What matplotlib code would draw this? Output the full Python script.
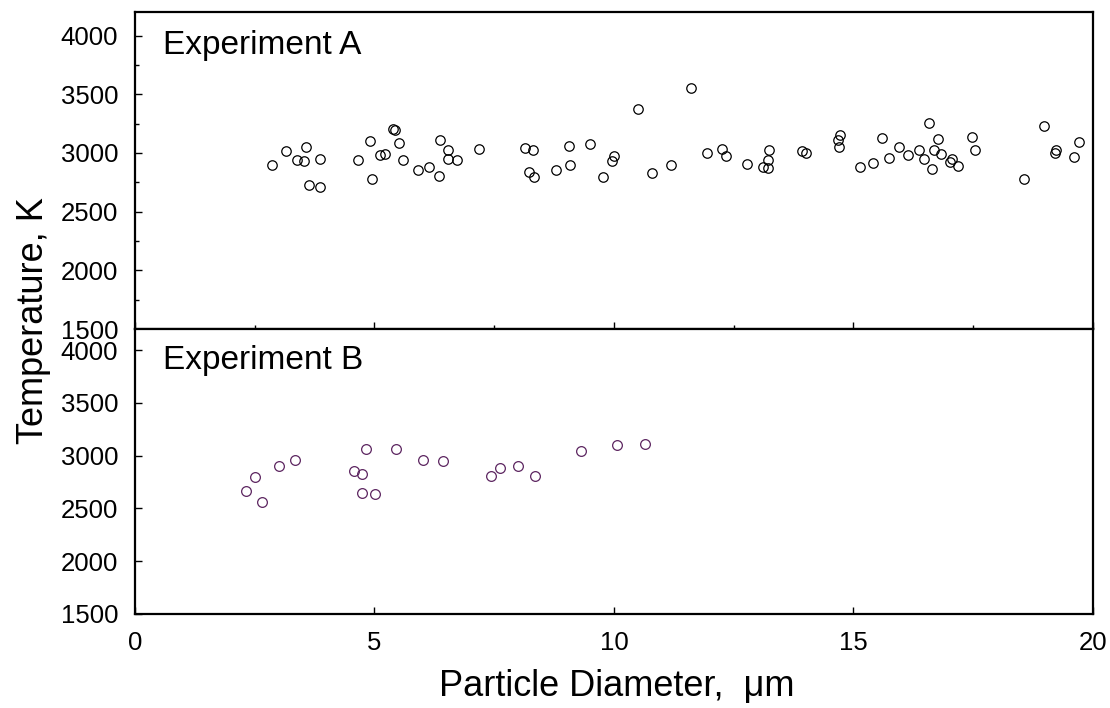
import numpy as np
import matplotlib
matplotlib.use("Agg")
import matplotlib.pyplot as plt
from matplotlib.ticker import MultipleLocator

plt.rcParams['font.family'] = ['Liberation Sans', 'DejaVu Sans']

# Experiment A: particle diameter (um) and temperature (K)
diam_a = [2.87, 3.15, 3.39, 3.53, 3.57, 3.86, 3.64, 3.86, 4.66, 4.90, 4.94, 5.11,
          5.22, 5.39, 5.43, 5.51, 5.60, 5.91, 6.14, 6.34, 6.36, 6.53, 6.53, 6.72,
          7.19, 8.15, 8.30, 8.23, 8.33, 8.80, 9.06, 9.08, 9.49, 9.78, 9.95, 10.00,
          10.51, 10.79, 11.19, 11.61, 11.94, 12.25, 12.35, 12.78, 13.12, 13.21, 13.21, 13.23,
          13.93, 14.01, 14.71, 14.68, 14.69, 15.14, 15.40, 15.59, 15.75, 15.96, 16.14, 16.37,
          16.47, 16.58, 16.68, 16.64, 16.76, 16.82, 17.01, 17.05, 17.18, 17.48, 17.53, 18.56,
          18.98, 19.23, 19.21, 19.60, 19.70]
temp_a = [2895, 3017, 2943, 2934, 3054, 2949, 2724, 2707, 2937, 3103, 2775, 2980,
          2994, 3202, 3197, 3085, 2937, 2855, 2880, 2801, 3111, 3023, 2946, 2937,
          3034, 3045, 3023, 2835, 2795, 2852, 3060, 2895, 3077, 2795, 2932, 2972,
          3376, 2829, 2900, 3550, 3000, 3034, 2972, 2906, 2883, 2869, 2940, 3023,
          3020, 3003, 3151, 3114, 3049, 2878, 2915, 3125, 2960, 3054, 2980, 3023,
          2946, 3254, 3023, 2861, 3122, 2994, 2926, 2949, 2886, 3137, 3028, 2778,
          3228, 3026, 2997, 2963, 3091]

# Experiment B
diam_b = [2.31, 2.51, 2.66, 3.01, 3.35, 4.57, 4.75, 4.82, 4.75, 5.02, 5.44, 6.02,
          6.44, 7.44, 7.62, 8.00, 8.36, 9.31, 10.06, 10.65]
temp_b = [2668, 2801, 2561, 2899, 2962, 2851, 2826, 3066, 2642, 2636, 3066, 2962,
          2950, 2804, 2883, 2905, 2810, 3041, 3104, 3114]

fig = plt.figure(figsize=(11.1, 7.08), dpi=100)
ax_a = fig.add_axes([0.1216, 0.5353, 0.863, 0.4477])
ax_b = fig.add_axes([0.1216, 0.1328, 0.863, 0.4025])

ax_a.plot(diam_a, temp_a, 'o', mfc='none', mec='black', ms=6.8, mew=0.9)
ax_b.plot(diam_b, temp_b, 'o', mfc='none', mec='#5c2560', ms=7, mew=0.9)

for ax in (ax_a, ax_b):
    ax.set_xlim(0, 20)
    ax.set_ylim(1500, 4200)
    ax.set_yticks([1500, 2000, 2500, 3000, 3500, 4000])
    ax.xaxis.set_major_locator(MultipleLocator(5))
    ax.tick_params(direction='in', length=5, width=1, labelsize=18.5, pad=12)
    ax.tick_params(which='minor', direction='in', length=3, width=1)
    for s in ax.spines.values():
        s.set_linewidth(1.6)

ax_a.xaxis.set_minor_locator(MultipleLocator(2.5))
ax_a.yaxis.set_minor_locator(MultipleLocator(250))
ax_a.tick_params(labelbottom=False)

ax_a.text(0.029, 0.893, "Experiment A", transform=ax_a.transAxes,
          fontsize=24, va='center', ha='left')
ax_b.text(0.029, 0.888, "Experiment B", transform=ax_b.transAxes,
          fontsize=24, va='center', ha='left')

fig.text(0.03, 0.547, "Temperature, K", rotation=90, fontsize=26,
         ha='center', va='center')
fig.text(0.556, 0.031, "Particle Diameter,  μm", fontsize=26,
         ha='center', va='center')

fig.savefig("out.png", dpi=100)
